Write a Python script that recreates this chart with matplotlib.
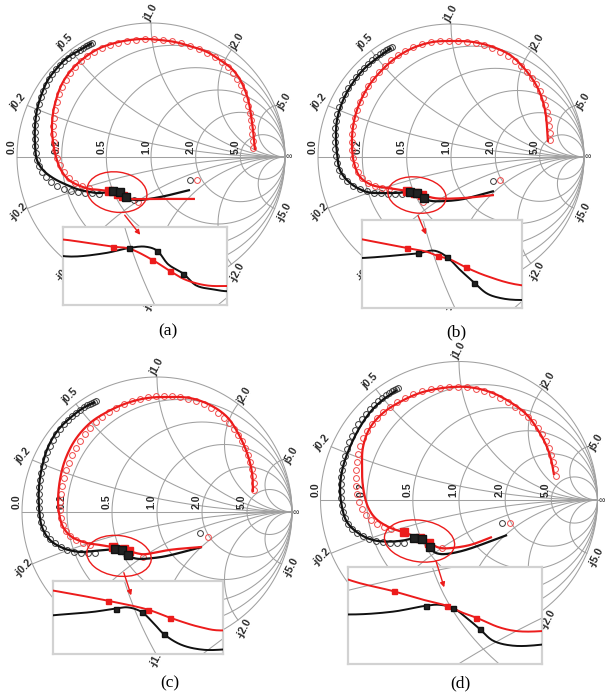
import numpy as np
import matplotlib
matplotlib.use("Agg")
import matplotlib.pyplot as plt
from matplotlib.patches import Ellipse

W, H = 605, 699
fig = plt.figure(figsize=(W / 100, H / 100), dpi=100)

# Smith chart grid values
R_VALS = [0.2, 0.5, 1.0, 2.0, 5.0]
X_VALS = [0.2, 0.5, 1.0, 2.0, 5.0]
R_LABELS = ["0.0", "0.2", "0.5", "1.0", "2.0", "5.0"]
X_LABELS = ["0.2", "0.5", "1.0", "2.0", "5.0"]

# All traces are reflection coefficients given as (real, imag) pairs.
# ---------------- (a) ----------------
a_red_line = [(0.776, 0.052), (0.769, 0.127), (0.761, 0.201), (0.746, 0.313), (0.731, 0.403), (0.701, 0.500),
              (0.657, 0.590), (0.597, 0.664), (0.515, 0.724), (0.418, 0.784), (0.313, 0.821), (0.179, 0.858),
              (0.067, 0.873), (-0.045, 0.881), (-0.157, 0.873), (-0.269, 0.851), (-0.381, 0.813),
              (-0.470, 0.761), (-0.552, 0.694), (-0.619, 0.619), (-0.672, 0.530), (-0.709, 0.425),
              (-0.731, 0.328), (-0.739, 0.224), (-0.731, 0.112), (-0.709, 0.000), (-0.672, -0.097),
              (-0.612, -0.172), (-0.530, -0.216), (-0.455, -0.239), (-0.400, -0.244), (-0.317, -0.254),
              (-0.286, -0.257), (-0.243, -0.274), (-0.210, -0.291), (-0.182, -0.304), (-0.142, -0.313),
              (-0.093, -0.314), (0.050, -0.313), (0.328, -0.313)]
a_blk_line = [(-0.440, 0.851), (-0.530, 0.799), (-0.627, 0.739), (-0.701, 0.664), (-0.769, 0.575),
              (-0.813, 0.478), (-0.851, 0.351), (-0.866, 0.224), (-0.866, 0.104), (-0.851, -0.022),
              (-0.806, -0.097), (-0.731, -0.157), (-0.627, -0.209), (-0.530, -0.246), (-0.455, -0.261),
              (-0.400, -0.269), (-0.332, -0.264), (-0.286, -0.256), (-0.256, -0.254), (-0.234, -0.260),
              (-0.213, -0.281), (-0.185, -0.295), (-0.161, -0.313), (-0.130, -0.319), (-0.093, -0.322),
              (0.067, -0.299), (0.291, -0.246)]
a_red_meas = [(0.761, 0.067), (0.761, 0.119), (0.754, 0.172), (0.754, 0.224), (0.746, 0.276), (0.739, 0.328),
              (0.724, 0.381), (0.709, 0.433), (0.694, 0.485), (0.672, 0.537), (0.642, 0.582), (0.612, 0.627),
              (0.575, 0.672), (0.530, 0.709), (0.478, 0.746), (0.418, 0.776), (0.358, 0.806), (0.291, 0.828),
              (0.224, 0.851), (0.157, 0.866), (0.090, 0.873), (0.022, 0.881), (-0.045, 0.881), (-0.112, 0.873),
              (-0.179, 0.866), (-0.246, 0.851), (-0.306, 0.836), (-0.366, 0.813), (-0.425, 0.784),
              (-0.478, 0.754), (-0.522, 0.716), (-0.567, 0.672), (-0.604, 0.627), (-0.634, 0.575),
              (-0.664, 0.522), (-0.687, 0.470), (-0.701, 0.410), (-0.716, 0.351), (-0.724, 0.291),
              (-0.731, 0.231), (-0.731, 0.172), (-0.724, 0.112), (-0.716, 0.052), (-0.701, -0.007),
              (-0.679, -0.060), (-0.649, -0.112), (-0.612, -0.157), (-0.567, -0.194), (-0.515, -0.216),
              (-0.463, -0.231), (-0.097, -0.336), (0.343, -0.172)]
a_blk_meas = [(-0.440, 0.851), (-0.455, 0.843), (-0.470, 0.836), (-0.485, 0.828), (-0.507, 0.813),
              (-0.530, 0.799), (-0.560, 0.784), (-0.590, 0.761), (-0.619, 0.739), (-0.649, 0.716),
              (-0.679, 0.687), (-0.709, 0.657), (-0.739, 0.619), (-0.761, 0.582), (-0.784, 0.537),
              (-0.806, 0.493), (-0.821, 0.448), (-0.836, 0.396), (-0.851, 0.343), (-0.858, 0.291),
              (-0.866, 0.239), (-0.866, 0.187), (-0.866, 0.134), (-0.866, 0.082), (-0.858, 0.030),
              (-0.851, -0.022), (-0.836, -0.067), (-0.813, -0.112), (-0.784, -0.149), (-0.746, -0.187),
              (-0.701, -0.216), (-0.649, -0.239), (-0.597, -0.254), (-0.545, -0.261), (-0.493, -0.269),
              (-0.440, -0.269), (-0.388, -0.276), (-0.127, -0.321), (0.291, -0.172)]
a_red_sq = [(-0.317, -0.254), (-0.243, -0.274), (-0.210, -0.291)]
a_blk_sq = [(-0.286, -0.256), (-0.234, -0.260), (-0.185, -0.295)]

# ---------------- (b) ----------------
b_red_line = [(0.729, 0.113), (0.722, 0.226), (0.707, 0.353), (0.669, 0.481), (0.617, 0.579), (0.541, 0.677),
              (0.444, 0.767), (0.316, 0.827), (0.165, 0.865), (0.015, 0.872), (-0.135, 0.865), (-0.286, 0.820),
              (-0.406, 0.752), (-0.519, 0.654), (-0.624, 0.526), (-0.699, 0.376), (-0.737, 0.226),
              (-0.744, 0.075), (-0.729, -0.045), (-0.684, -0.150), (-0.594, -0.211), (-0.481, -0.232),
              (-0.416, -0.242), (-0.330, -0.255), (-0.290, -0.261), (-0.270, -0.267), (-0.247, -0.272),
              (-0.216, -0.284), (-0.176, -0.297), (-0.108, -0.311), (0.070, -0.310), (0.323, -0.286)]
b_blk_line = [(-0.451, 0.820), (-0.556, 0.744), (-0.662, 0.654), (-0.759, 0.526), (-0.820, 0.406),
              (-0.857, 0.278), (-0.865, 0.150), (-0.857, 0.030), (-0.835, -0.098), (-0.759, -0.195),
              (-0.632, -0.263), (-0.511, -0.271), (-0.416, -0.270), (-0.348, -0.266), (-0.308, -0.263),
              (-0.277, -0.259), (-0.253, -0.268), (-0.227, -0.288), (-0.200, -0.307), (-0.176, -0.323),
              (-0.150, -0.330), (-0.108, -0.333), (0.070, -0.320), (0.323, -0.256)]
b_red_meas = [(0.744, 0.128), (0.744, 0.180), (0.737, 0.233), (0.729, 0.286), (0.722, 0.338), (0.707, 0.391),
              (0.692, 0.444), (0.669, 0.496), (0.639, 0.549), (0.609, 0.594), (0.571, 0.639), (0.526, 0.684),
              (0.481, 0.722), (0.429, 0.759), (0.368, 0.789), (0.308, 0.820), (0.248, 0.842), (0.188, 0.857),
              (0.120, 0.865), (0.053, 0.872), (-0.015, 0.872), (-0.083, 0.872), (-0.150, 0.865),
              (-0.218, 0.850), (-0.286, 0.827), (-0.346, 0.797), (-0.398, 0.767), (-0.451, 0.729),
              (-0.496, 0.684), (-0.541, 0.639), (-0.586, 0.586), (-0.624, 0.534), (-0.654, 0.474),
              (-0.684, 0.414), (-0.707, 0.353), (-0.722, 0.293), (-0.737, 0.233), (-0.744, 0.173),
              (-0.744, 0.113), (-0.744, 0.053), (-0.737, -0.008), (-0.722, -0.060), (-0.699, -0.113),
              (-0.669, -0.158), (-0.624, -0.195), (-0.571, -0.218), (-0.519, -0.233), (-0.466, -0.241),
              (-0.211, -0.338), (0.368, -0.173)]
b_blk_meas = [(-0.444, 0.827), (-0.459, 0.820), (-0.474, 0.812), (-0.489, 0.805), (-0.511, 0.789),
              (-0.534, 0.774), (-0.564, 0.752), (-0.594, 0.729), (-0.624, 0.699), (-0.654, 0.669),
              (-0.684, 0.639), (-0.714, 0.602), (-0.744, 0.564), (-0.774, 0.519), (-0.797, 0.474),
              (-0.820, 0.429), (-0.842, 0.376), (-0.857, 0.323), (-0.865, 0.271), (-0.872, 0.218),
              (-0.872, 0.165), (-0.872, 0.113), (-0.872, 0.060), (-0.865, 0.008), (-0.857, -0.045),
              (-0.842, -0.098), (-0.820, -0.143), (-0.782, -0.180), (-0.737, -0.218), (-0.684, -0.241),
              (-0.632, -0.256), (-0.579, -0.271), (-0.526, -0.271), (-0.474, -0.278), (-0.421, -0.278),
              (-0.368, -0.278), (0.316, -0.180)]
b_red_sq = [(-0.330, -0.255), (-0.270, -0.267), (-0.216, -0.284)]
b_blk_sq = [(-0.308, -0.263), (-0.253, -0.268), (-0.200, -0.307)]

# ---------------- (c) ----------------
c_red_line = [(0.711, 0.148), (0.704, 0.289), (0.667, 0.437), (0.600, 0.585), (0.519, 0.704), (0.393, 0.793),
              (0.244, 0.844), (0.074, 0.852), (-0.074, 0.844), (-0.222, 0.807), (-0.370, 0.741),
              (-0.496, 0.659), (-0.607, 0.533), (-0.681, 0.385), (-0.719, 0.237), (-0.733, 0.089),
              (-0.726, -0.007), (-0.696, -0.111), (-0.630, -0.185), (-0.519, -0.230), (-0.437, -0.242),
              (-0.328, -0.260), (-0.247, -0.276), (-0.204, -0.290), (-0.143, -0.307), (-0.097, -0.313),
              (0.100, -0.280), (0.333, -0.259)]
c_blk_line = [(-0.459, 0.815), (-0.548, 0.770), (-0.644, 0.696), (-0.733, 0.607), (-0.807, 0.481),
              (-0.852, 0.333), (-0.874, 0.185), (-0.874, 0.037), (-0.852, -0.111), (-0.793, -0.207),
              (-0.696, -0.267), (-0.570, -0.296), (-0.474, -0.289), (-0.437, -0.286), (-0.357, -0.280),
              (-0.311, -0.274), (-0.287, -0.272), (-0.260, -0.280), (-0.236, -0.300), (-0.216, -0.319),
              (-0.182, -0.338), (-0.141, -0.347), (-0.097, -0.347), (0.050, -0.330), (0.333, -0.259)]
c_red_meas = [(0.719, 0.163), (0.719, 0.215), (0.711, 0.267), (0.704, 0.319), (0.689, 0.370), (0.674, 0.422),
              (0.652, 0.474), (0.630, 0.526), (0.600, 0.570), (0.570, 0.615), (0.533, 0.659), (0.496, 0.696),
              (0.452, 0.733), (0.400, 0.770), (0.348, 0.800), (0.289, 0.822), (0.230, 0.837), (0.170, 0.852),
              (0.111, 0.859), (0.052, 0.859), (-0.007, 0.859), (-0.067, 0.852), (-0.126, 0.837),
              (-0.185, 0.822), (-0.244, 0.800), (-0.304, 0.770), (-0.356, 0.741), (-0.407, 0.704),
              (-0.452, 0.667), (-0.496, 0.622), (-0.533, 0.578), (-0.570, 0.526), (-0.600, 0.474),
              (-0.630, 0.422), (-0.652, 0.363), (-0.674, 0.311), (-0.689, 0.252), (-0.704, 0.193),
              (-0.711, 0.133), (-0.719, 0.074), (-0.719, 0.015), (-0.711, -0.044), (-0.696, -0.096),
              (-0.674, -0.141), (-0.644, -0.178), (-0.600, -0.207), (-0.548, -0.230), (-0.496, -0.244),
              (-0.104, -0.333), (0.378, -0.185)]
c_blk_meas = [(-0.452, 0.822), (-0.467, 0.815), (-0.481, 0.807), (-0.496, 0.800), (-0.519, 0.793),
              (-0.541, 0.778), (-0.570, 0.756), (-0.600, 0.733), (-0.630, 0.711), (-0.659, 0.681),
              (-0.689, 0.652), (-0.719, 0.615), (-0.748, 0.578), (-0.770, 0.533), (-0.793, 0.489),
              (-0.815, 0.444), (-0.830, 0.393), (-0.844, 0.341), (-0.859, 0.289), (-0.867, 0.237),
              (-0.874, 0.185), (-0.874, 0.133), (-0.874, 0.081), (-0.874, 0.030), (-0.867, -0.022),
              (-0.859, -0.074), (-0.844, -0.119), (-0.822, -0.163), (-0.793, -0.200), (-0.756, -0.230),
              (-0.711, -0.259), (-0.667, -0.281), (-0.615, -0.296), (-0.563, -0.304), (-0.511, -0.304),
              (-0.459, -0.304), (0.319, -0.156)]
c_red_sq = [(-0.328, -0.260), (-0.247, -0.276), (-0.204, -0.290)]
c_blk_sq = [(-0.311, -0.274), (-0.260, -0.280), (-0.216, -0.319)]

# ---------------- (d) ----------------
d_red_line = [(0.686, 0.181), (0.671, 0.267), (0.635, 0.383), (0.570, 0.505), (0.491, 0.614), (0.368, 0.708),
              (0.224, 0.780), (0.058, 0.816), (-0.116, 0.809), (-0.282, 0.773), (-0.426, 0.708),
              (-0.549, 0.628), (-0.643, 0.520), (-0.693, 0.383), (-0.700, 0.238), (-0.693, 0.094),
              (-0.657, -0.051), (-0.600, -0.135), (-0.500, -0.199), (-0.399, -0.233), (-0.341, -0.255),
              (-0.281, -0.275), (-0.246, -0.295), (-0.216, -0.309), (-0.165, -0.337), (-0.126, -0.348),
              (-0.070, -0.348), (0.079, -0.325), (0.238, -0.267)]
d_blk_line = [(-0.448, 0.794), (-0.534, 0.736), (-0.628, 0.650), (-0.715, 0.527), (-0.787, 0.383),
              (-0.838, 0.238), (-0.859, 0.094), (-0.845, -0.051), (-0.809, -0.159), (-0.729, -0.238),
              (-0.621, -0.289), (-0.500, -0.300), (-0.401, -0.292), (-0.328, -0.275), (-0.298, -0.272),
              (-0.268, -0.281), (-0.238, -0.309), (-0.208, -0.342), (-0.178, -0.376), (-0.135, -0.390),
              (-0.070, -0.387), (0.050, -0.360), (0.347, -0.253)]
d_red_meas = [(0.700, 0.173), (0.693, 0.224), (0.679, 0.274), (0.664, 0.325), (0.650, 0.375), (0.628, 0.426),
              (0.599, 0.477), (0.570, 0.520), (0.534, 0.563), (0.498, 0.599), (0.455, 0.635), (0.404, 0.671),
              (0.354, 0.708), (0.296, 0.736), (0.238, 0.765), (0.181, 0.787), (0.123, 0.801), (0.058, 0.816),
              (-0.007, 0.816), (-0.072, 0.816), (-0.137, 0.809), (-0.202, 0.801), (-0.267, 0.787),
              (-0.332, 0.765), (-0.390, 0.736), (-0.448, 0.708), (-0.498, 0.671), (-0.549, 0.635),
              (-0.592, 0.592), (-0.628, 0.549), (-0.664, 0.498), (-0.693, 0.448), (-0.715, 0.390),
              (-0.729, 0.332), (-0.736, 0.274), (-0.744, 0.217), (-0.744, 0.159), (-0.744, 0.101),
              (-0.736, 0.043), (-0.722, -0.014), (-0.700, -0.065), (-0.671, -0.108), (-0.635, -0.144),
              (-0.592, -0.173), (-0.542, -0.195), (-0.491, -0.209), (-0.123, -0.347), (0.368, -0.166)]
d_blk_meas = [(-0.440, 0.809), (-0.455, 0.801), (-0.469, 0.794), (-0.484, 0.787), (-0.505, 0.773),
              (-0.527, 0.758), (-0.556, 0.736), (-0.585, 0.715), (-0.614, 0.686), (-0.643, 0.657),
              (-0.671, 0.621), (-0.700, 0.585), (-0.729, 0.549), (-0.751, 0.505), (-0.773, 0.462),
              (-0.794, 0.419), (-0.809, 0.368), (-0.823, 0.318), (-0.838, 0.267), (-0.845, 0.217),
              (-0.852, 0.166), (-0.852, 0.116), (-0.852, 0.065), (-0.852, 0.014), (-0.845, -0.036),
              (-0.838, -0.087), (-0.823, -0.130), (-0.801, -0.173), (-0.773, -0.209), (-0.736, -0.238),
              (-0.693, -0.260), (-0.650, -0.282), (-0.599, -0.296), (-0.549, -0.303), (-0.498, -0.310),
              (-0.448, -0.310), (-0.397, -0.310), (0.310, -0.166)]
d_red_sq = [(-0.399, -0.233), (-0.281, -0.275), (-0.216, -0.309)]
d_blk_sq = [(-0.328, -0.275), (-0.268, -0.281), (-0.208, -0.342)]

CAPTIONS = ["(a)", "(b)", "(c)", "(d)"]

RED = "#ec1c1c"
BLK = "#111111"
GRID = "#a0a0a0"
LBL = "#2a2a2a"


def xy(pts):
    a = np.asarray(pts, dtype=float)
    return a[:, 0], a[:, 1]


def smooth(pts, n=12, alpha=0.5):
    """Centripetal Catmull-Rom curve through the given points."""
    p = np.asarray(pts, dtype=float)
    p = np.vstack([2 * p[0] - p[1], p, 2 * p[-1] - p[-2]])
    out = []
    for i in range(1, len(p) - 2):
        p0, p1, p2, p3 = p[i - 1], p[i], p[i + 1], p[i + 2]
        t0 = 0.0
        t1 = t0 + max(np.linalg.norm(p1 - p0), 1e-9) ** alpha
        t2 = t1 + max(np.linalg.norm(p2 - p1), 1e-9) ** alpha
        t3 = t2 + max(np.linalg.norm(p3 - p2), 1e-9) ** alpha
        t = np.linspace(t1, t2, n, endpoint=False)[:, None]
        a1 = (t1 - t) / (t1 - t0) * p0 + (t - t0) / (t1 - t0) * p1
        a2 = (t2 - t) / (t2 - t1) * p1 + (t - t1) / (t2 - t1) * p2
        a3 = (t3 - t) / (t3 - t2) * p2 + (t - t2) / (t3 - t2) * p3
        b1 = (t2 - t) / (t2 - t0) * a1 + (t - t0) / (t2 - t0) * a2
        b2 = (t3 - t) / (t3 - t1) * a2 + (t - t1) / (t3 - t1) * a3
        out.append((t2 - t) / (t2 - t1) * b1 + (t - t1) / (t2 - t1) * b2)
    out.append(p[-2][None, :])
    out = np.vstack(out)
    return out[:, 0], out[:, 1]


def smith_grid(ax, lw=0.75, z=1):
    t = np.linspace(0, 2 * np.pi, 600)
    ax.plot(np.cos(t), np.sin(t), color=GRID, lw=lw, zorder=z)
    ax.plot([-1, 1], [0, 0], color=GRID, lw=lw, zorder=z)
    for r in R_VALS:
        c, rad = r / (1 + r), 1 / (1 + r)
        ax.plot(c + rad * np.cos(t), rad * np.sin(t), color=GRID, lw=lw, zorder=z)
    for x in X_VALS:
        gr, gi = (x * x - 1) / (x * x + 1), 2 * x / (x * x + 1)
        phi0 = np.arctan2(gi - 1 / x, gr - 1) % (2 * np.pi)
        ph = np.linspace(phi0, 1.5 * np.pi, 300)
        xs = 1 + np.cos(ph) / x
        ys = 1 / x + np.sin(ph) / x
        ax.plot(xs, ys, color=GRID, lw=lw, zorder=z)
        ax.plot(xs, -ys, color=GRID, lw=lw, zorder=z)


def smith_labels(ax):
    kw = dict(fontsize=7.6, fontweight="bold", color=LBL, family="Liberation Sans",
              ha="center", va="center", zorder=2)
    for lab, r in zip(R_LABELS, [0.0] + R_VALS):
        g = (r - 1) / (r + 1)
        ax.text(g - 0.038, 0.075, lab, rotation=90, **kw)
    ax.text(1.03, 0.0, "\u221e", rotation=0, **dict(kw, fontsize=6.5, fontweight="normal"))
    rot_pos = {0.2: 50, 0.5: 45, 1.0: 62, 2.0: 60, 5.0: 60}
    rot_neg = {0.2: 45, 0.5: 50, 1.0: 62, 2.0: 62, 5.0: 62}
    for lab, x in zip(X_LABELS, X_VALS):
        gr, gi = (x * x - 1) / (x * x + 1), 2 * x / (x * x + 1)
        ang = np.arctan2(gi, gr)
        rr = 1.075
        ax.text(rr * np.cos(ang), rr * np.sin(ang), "j" + lab, rotation=rot_pos[x], **kw)
        ax.text(rr * np.cos(ang), -rr * np.sin(ang), "-j" + lab, rotation=rot_neg[x], **kw)


def draw_traces(ax, d, lw, ms_c, ms_s, circles=True):
    rx, ry = smooth(d["red_line"])
    bx, by = smooth(d["blk_line"])
    if circles:
        ax.plot(*xy(d["blk_meas"]), "o", mfc="none", mec="#3a3a3a", ms=ms_c, mew=0.7, zorder=3)
        ax.plot(*xy(d["red_meas"]), "o", mfc="none", mec="#f04a4a", ms=ms_c, mew=0.7, zorder=3)
    ax.plot(bx, by, color=BLK, lw=lw, zorder=4, solid_capstyle="butt")
    ax.plot(rx, ry, color=RED, lw=lw, zorder=5, solid_capstyle="butt")
    ax.plot(*xy(d["red_sq"]), "s", color=RED, mec=RED, ms=ms_s, zorder=6)
    ax.plot(*xy(d["blk_sq"]), "s", color="#222222", mec=BLK, ms=ms_s, zorder=7)


def panel(d):
    cx, cy, R = d["center"][0], d["center"][1], d["radius"]
    L = 1.25
    ax = fig.add_axes([(cx - L * R) / W, 1 - (cy + L * R) / H, 2 * L * R / W, 2 * L * R / H])
    ax.set_xlim(-L, L)
    ax.set_ylim(-L, L)
    ax.axis("off")
    smith_grid(ax)
    smith_labels(ax)
    draw_traces(ax, d, lw=1.6, ms_c=4.2, ms_s=5.2)
    ec, ew, eh, ea = d["ellipse"]
    ax.add_patch(Ellipse(ec, ew, eh, angle=ea, fill=False, ec=RED, lw=1.0, zorder=8))

    # magnified view of the marked region
    bx0, by0, bx1, by1 = d["inset_box"]
    ins = fig.add_axes([bx0 / W, 1 - by1 / H, (bx1 - bx0) / W, (by1 - by0) / H])
    ins.set_facecolor("white")
    smith_grid(ins, lw=0.75)
    draw_traces(ins, d, lw=1.4, ms_c=3.5, ms_s=3.6, circles=False)
    wx0, wx1, wy0, wy1 = d["window"]
    ins.set_xlim(wx0, wx1)
    ins.set_ylim(wy0, wy1)
    ins.set_xticks([])
    ins.set_yticks([])
    for s in ins.spines.values():
        s.set_color("#d2d2d2")
        s.set_linewidth(1.6)
    (sx, sy), (ex, ey) = d["arrow"]
    ins.annotate("", xy=(ex, ey), xycoords=ax.transData, xytext=(sx, sy), textcoords=ax.transData,
                 arrowprops=dict(arrowstyle="-|>", color=RED, lw=1.0, mutation_scale=7),
                 annotation_clip=False, zorder=10)
    tx, ty = d["caption_pos"]
    fig.text(tx / W, 1 - ty / H, d["caption"], fontsize=12.5, family="Liberation Serif",
             ha="center", va="center")


panels = [
    dict(center=(151, 157), radius=134, red_line=a_red_line, blk_line=a_blk_line,
         red_meas=a_red_meas, blk_meas=a_blk_meas, red_sq=a_red_sq, blk_sq=a_blk_sq,
         ellipse=((-0.254, -0.262), 0.45, 0.30, -8),
         inset_box=(63, 227, 227, 305), window=(-0.41, -0.103, -0.343, -0.224),
         arrow=((-0.209, -0.418), (-0.067, -0.597)), caption=CAPTIONS[0], caption_pos=(168, 331)),
    dict(center=(451, 157), radius=133, red_line=b_red_line, blk_line=b_blk_line,
         red_meas=b_red_meas, blk_meas=b_blk_meas, red_sq=b_red_sq, blk_sq=b_blk_sq,
         ellipse=((-0.256, -0.286), 0.44, 0.27, -8),
         inset_box=(362, 220, 522, 308), window=(-0.416, -0.108, -0.345, -0.213),
         arrow=((-0.256, -0.421), (-0.180, -0.602)), caption=CAPTIONS[1], caption_pos=(456, 332)),
    dict(center=(157, 512), radius=135, red_line=c_red_line, blk_line=c_blk_line,
         red_meas=c_red_meas, blk_meas=c_blk_meas, red_sq=c_red_sq, blk_sq=c_blk_sq,
         ellipse=((-0.281, -0.325), 0.48, 0.30, -8),
         inset_box=(53, 581, 223, 654), window=(-0.437, -0.097, -0.355, -0.225),
         arrow=((-0.252, -0.430), (-0.185, -0.637)), caption=CAPTIONS[2], caption_pos=(170, 683)),
    dict(center=(459, 500), radius=138.5, red_line=d_red_line, blk_line=d_blk_line,
         red_meas=d_red_meas, blk_meas=d_blk_meas, red_sq=d_red_sq, blk_sq=d_blk_sq,
         ellipse=((-0.285, -0.296), 0.51, 0.30, -8),
         inset_box=(348, 567, 542, 664), window=(-0.50, -0.07, -0.443, -0.163),
         arrow=((-0.173, -0.419), (-0.101, -0.650)), caption=CAPTIONS[3], caption_pos=(460, 683)),
]

for p in panels:
    panel(p)

fig.savefig("out.png", dpi=100, facecolor="white")
